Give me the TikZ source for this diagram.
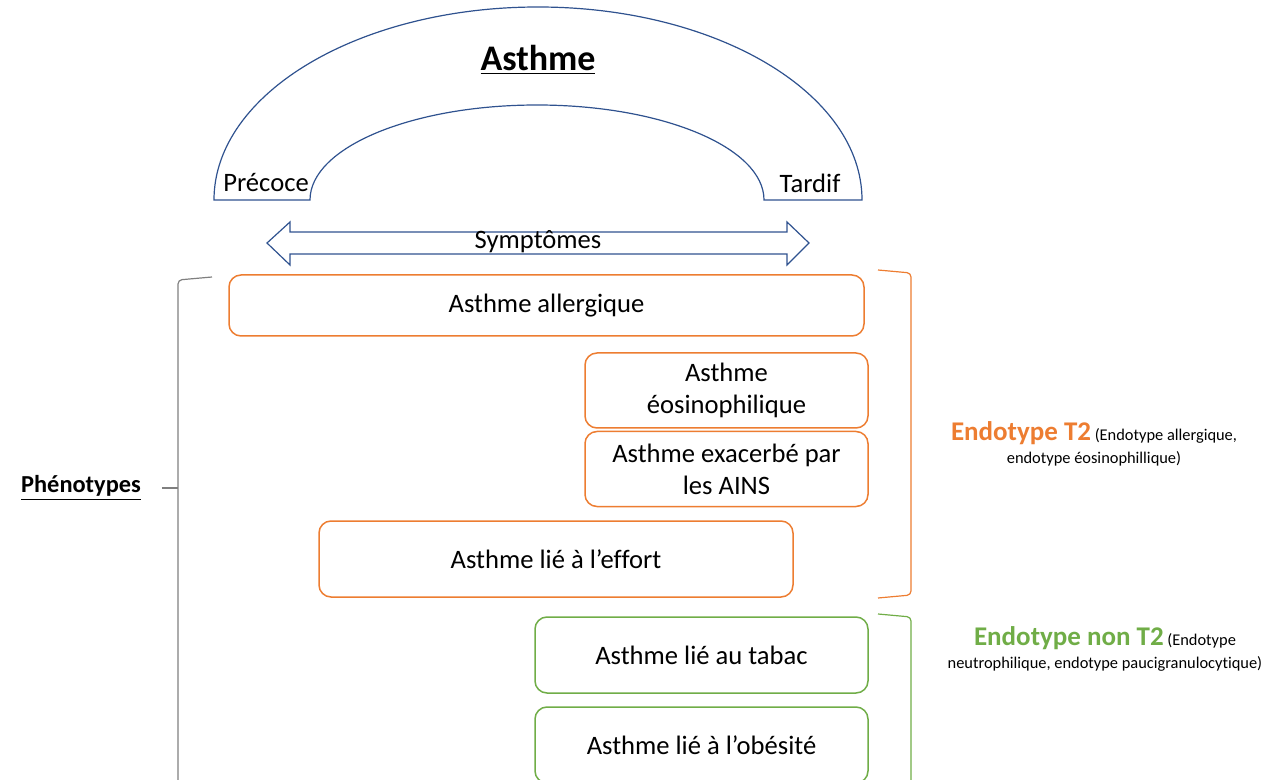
\documentclass[tikz,border=0pt]{standalone}
\usepackage{fontspec}
\setmainfont{Carlito}[Ligatures=NoCommon]
\usetikzlibrary{positioning}
\definecolor{archblue}{HTML}{2F528F}
\definecolor{tworange}{HTML}{ED7D31}
\definecolor{ntgreen}{HTML}{70AD47}
\definecolor{bracegray}{HTML}{7F7F7F}
\tikzset{
  pheno/.style={draw=#1, line width=0.75pt, fill=white, rounded corners=6pt,
    align=center, inner sep=2pt, font=\fontsize{13.3}{16}\selectfont},
  brace/.style={draw=#1, line width=0.6pt, rounded corners=2pt},
  plain/.style={font=\fontsize{13.3}{16}\selectfont}
}
\begin{document}
\begin{tikzpicture}[x=0.5pt,y=-0.5pt]
\useasboundingbox (0,0) rectangle (1274,780);
% arc of onset
\draw[archblue, line width=0.6pt] (214,200) arc[start angle=180, end angle=360, x radius=324, y radius=193]
  -- (764,200) arc[start angle=0, end angle=-180, x radius=227, y radius=95] -- cycle;
\node[font=\fontsize{18}{20}\selectfont\bfseries] (asthme) at (538,60) {\underline{Asthme}};
\node[plain] (precoce) at (266,183) {Précoce};
\node[plain] (tardif) at (810,183) {Tardif};
% symptoms arrow
\draw[archblue, line width=0.6pt] (267,243) -- (290,222) -- (290,232) -- (787,232) -- (787,222) -- (809,243)
  -- (787,265) -- (787,254) -- (290,254) -- (290,265) -- cycle;
\node[plain] (sympt) at (538,242) {Symptômes};
% phenotypes
\node[pheno=tworange, minimum width=317.5pt, minimum height=30.5pt] (allerg) at (546.5,305.5) {Asthme allergique};
\node[pheno=tworange, minimum width=141.5pt, minimum height=37.5pt] (eosino) at (726.5,390.5) {Asthme\\éosinophilique};
\node[pheno=tworange, minimum width=141.5pt, minimum height=37.5pt, below=1pt of eosino] (ains) {Asthme exacerbé par\\les AINS};
\node[pheno=tworange, minimum width=237pt, minimum height=38pt] (effort) at (556,559) {Asthme lié à l’effort};
\node[pheno=ntgreen, minimum width=166.5pt, minimum height=38pt] (tabac) at (701.5,655) {Asthme lié au tabac};
\node[pheno=ntgreen, minimum width=166.5pt, minimum height=38pt] (obes) at (701.5,745) {Asthme lié à l’obésité};
% left brace
\node[font=\fontsize{12.2}{14}\selectfont\bfseries] (phenot) at (81,488) {\underline{Phénotypes}};
\coordinate (lbtop) at (212,277);
\coordinate (lbmid) at (178,488);
\draw[brace=bracegray] (lbtop) -- (178,280) -- (178,790);
\draw[bracegray, line width=0.6pt, shorten <=7pt] (phenot.east) -- (lbmid);
% right braces
\draw[brace=tworange] (878,270) -- (911,273) -- (911,595) -- (878,598);
\draw[brace=ntgreen] (878,614) -- (911,617) -- (911,790);
\node[align=center, font=\fontsize{8.2}{11.5}\selectfont] (t2) at (1094,444)
  {{\color{tworange}\fontsize{13.5}{14}\selectfont\bfseries Endotype T2} (Endotype allergique,\\endotype éosinophillique)};
\node[align=center, font=\fontsize{8.2}{11.5}\selectfont] (nt2) at (1105,649)
  {{\color{ntgreen}\fontsize{13.5}{14}\selectfont\bfseries Endotype non T2} (Endotype\\neutrophilique, endotype paucigranulocytique)};
\end{tikzpicture}
\end{document}
